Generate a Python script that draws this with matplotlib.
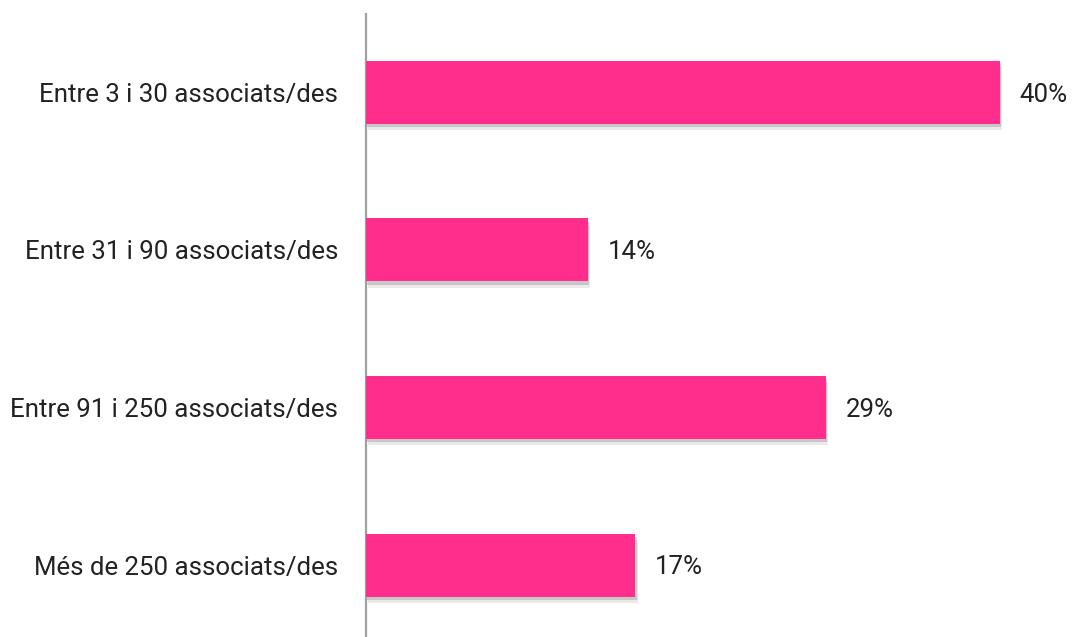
import matplotlib
matplotlib.use("Agg")
import matplotlib.pyplot as plt
import matplotlib.patheffects as pe

categories = ["Entre 3 i 30 associats/des", "Entre 31 i 90 associats/des",
              "Entre 91 i 250 associats/des", "Més de 250 associats/des"]
values = [40, 14, 29, 17]

plt.rcParams['font.family'] = ['Roboto', 'DejaVu Sans']

fig = plt.figure(figsize=(10.78, 6.37), dpi=100)
ax = fig.add_axes([366 / 1078, 0, 712 / 1078, 623 / 637])

bars = ax.barh(range(len(values)), values, height=0.4, color="#FF2E8C", zorder=3)
# soft shadow under each bar
for b in bars:
    b.set_path_effects([pe.SimplePatchShadow(offset=(1.5, -4.5), shadow_rgbFace="#999999", alpha=0.2),
                        pe.SimplePatchShadow(offset=(1, -2.5), shadow_rgbFace="#888888", alpha=0.35),
                        pe.Normal()])

for i, v in enumerate(values):
    ax.text(v + 1.25, i + 0.015, f"{v}%", va="center", ha="left", fontsize=18.6,
            color="#222222")

ax.set_xlim(0, 712 / 15.85)
ax.set_ylim(3.457, -0.498)
ax.set_yticks(range(len(categories)))
ax.set_yticklabels(categories, fontsize=18.6, color="#222222")
ax.tick_params(axis="y", length=0, pad=20)
ax.set_xticks([])
for s in ["top", "right", "bottom"]:
    ax.spines[s].set_visible(False)
ax.spines["left"].set_color("#a0a0a0")
ax.spines["left"].set_linewidth(1.6)

fig.savefig("out.png", dpi=100)
